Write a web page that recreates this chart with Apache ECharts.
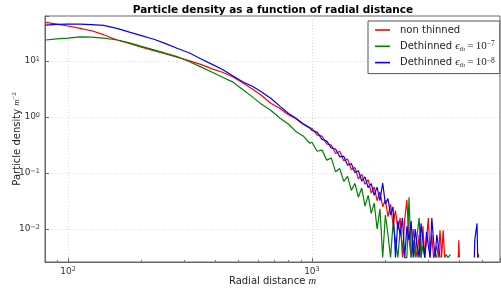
<!DOCTYPE html>
<html>
<head>
<meta charset="utf-8">
<script src="https://cdn.jsdelivr.net/npm/echarts@6/dist/echarts.min.js"></script>
<style>html,body{margin:0;padding:0;background:#fff;}#c{width:501px;height:289px;}</style>
</head>
<body>
<div id="c"></div>
<script>
// ---- data ----
const radius = [81,90,100,112,125,140,160,180,200,225,250,280,315,350,390,430,475,520,570,620,680,740,800,860,920,980,
  1000,1050,1100,1150,1200,1250,1300,1350,1400,1450,1500,1550,1600,1650,1700,1750,1800,1850,1900,1950,
  2000,2050,2100,2150,2200,2250,2300,2350,2400,2450,2500,2550,2600,2650,2700,2750,2800,2850,2900,2950,
  3000,3050,3100,3150,3200,3250,3300,3350,3400,3450,3500,3550,3600,3650,3700,
  3800,3900,3980,4000,4020,4100,4500,4600,4630,4650,4700,4750,4780,4800,4820,4900];

// 0 = empty bin (clipped to the bottom on the log axis), null = no data
const nonThinned = [49,45.4,42.2,38.2,34.7,29.5,23.5,20.4,17.7,15.3,13.5,11.7,10.05,8.7,7.25,6.3,5.19,4.1,3.16,2.45,1.74,1.42,1.10,0.93,0.74,0.64,
  0.63,0.48,0.457,0.33,0.316,0.224,0.245,0.166,0.178,0.115,0.126,0.079,0.095,0.063,0.076,0.044,0.056,0.032,0.046,0.025,
  0.033,0.0166,0.0275,0.012,0.0214,0.0098,0.0158,0,0.0148,0.033,0.0063,0,0.010,0.005,0,0.0079,0,0.0112,0,0.0063,
  0.0158,0,0.0079,0,0,0.005,0,0.0095,0,0.0095,0,0,0,0,0,
  0,0,0,0.0063,0,0,0,0,0,0,0,0,0,0.0036,0,null];

const dethinned7 = [23.7,24.8,25.7,26.9,26.6,25.7,23.7,20.9,18.2,15.8,13.8,12.0,9.7,7.85,6.3,5.13,4.19,3.09,2.29,1.70,1.31,0.95,0.75,0.55,0.46,0.34,
  0.355,0.245,0.257,0.17,0.186,0.105,0.12,0.071,0.087,0.049,0.065,0.037,0.054,0.0257,0.040,0.019,0.029,0.010,0.023,0,
  0.0178,0.0079,0,0.0126,0.0063,0,0.010,0.005,0,0,0.037,0,0.0063,0,0.0079,0.0158,0,0.005,0,0,
  0,0,0,0,0.004,0,0,0,0,0,0,0.0035,0,0,0.0035,
  null,null,null,null,null,null,null,null,null,null,null,null,null,null,null,null];

const dethinned8 = [43.7,45.2,45.7,45.7,44.7,43.2,37.8,32.4,28.4,24.5,20.6,16.9,13.9,11.0,8.7,7.03,5.4,4.27,3.55,2.82,2.14,1.55,1.17,0.95,0.76,0.64,
  0.575,0.537,0.398,0.372,0.282,0.269,0.195,0.20,0.138,0.148,0.102,0.110,0.072,0.085,0.055,0.065,0.040,0.056,0.032,0.066,
  0.028,0.035,0.0178,0.025,0,0.014,0.0079,0.0158,0,0.0112,0.0063,0.014,0,0.010,0.005,0,0.0126,0.0063,0,0.0089,
  0.005,0,0.0158,0.0063,0,0.0079,0.005,0,0,0,0,0,0,0,0,
  0,0,0,0,0,0,0,0,0,0.0063,0.0063,0.0126,0,0,null,null];

const seriesNames = ['non thinned', 'Dethinned eps7', 'Dethinned eps8'];
const xMinorTicks = [90,200,300,400,500,600,700,800,900,2000,3000,4000,5000];

// ---- chart ----
const X_MIN = 80.5, X_MAX = 5900, Y_MIN = 0.00258, Y_MAX = 63.6;
const FLOOR = 0.0031; // level to which empty bins are clipped

function toLine(vals) {
  return radius.map((r, i) => {
    const v = vals[i];
    if (v == null) return [r, '-'];
    if (v > 0) return [r, v];
    const p = vals[i - 1], n = vals[i + 1];
    return (p > 0 || n > 0) ? [r, FLOOR] : [r, '-'];
  });
}

function powLabel(v) {
  const e = Math.round(Math.log10(v));
  if (Math.abs(Math.log10(v) - e) > 1e-6) return '';
  return '{b|10}{s|' + (e < 0 ? '\u2212' + (-e) : e) + '}';
}
const tickRich = {
  b: {fontFamily: 'DejaVu Sans', fontSize: 9, color: '#333', lineHeight: 11},
  s: {fontFamily: 'DejaVu Sans', fontSize: 6.5, color: '#333', lineHeight: 5, verticalAlign: 'top'}
};

const legendRich = {
  a: {fontFamily: 'DejaVu Sans', fontSize: 10, color: '#222', lineHeight: 12},
  e: {fontFamily: 'Liberation Serif', fontStyle: 'italic', fontSize: 11, color: '#222', lineHeight: 12},
  sub: {fontFamily: 'Liberation Serif', fontStyle: 'italic', fontSize: 7, color: '#222', lineHeight: 6, verticalAlign: 'bottom'},
  m: {fontFamily: 'Liberation Serif', fontSize: 11, color: '#222', lineHeight: 12},
  sup: {fontFamily: 'Liberation Serif', fontSize: 7.5, color: '#222', lineHeight: 6, verticalAlign: 'top'}
};
const legendText = {
  'non thinned': '{a|non thinned}',
  'Dethinned eps7': '{a|Dethinned }{e|\u03f5}{sub|th}{m|\u2009=\u200910}{sup|\u22127}',
  'Dethinned eps8': '{a|Dethinned }{e|\u03f5}{sub|th}{m|\u2009=\u200910}{sup|\u22128}'
};

const colors = ['#ff0000', '#008000', '#0000ff'];
const datasets = [nonThinned, dethinned7, dethinned8];

const chart = echarts.init(document.getElementById('c'), null, {renderer: 'canvas'});
chart.setOption({
  animation: false,
  backgroundColor: '#fff',
  graphic: [{
    type: 'text', x: 273, y: 10,
    style: {text: 'Particle density as a function of radial distance', fontFamily: 'DejaVu Sans',
      fontWeight: 'bold', fontSize: 10.5, fill: '#000', align: 'center', verticalAlign: 'middle'}
  }],
  grid: {left: 45, right: 1, top: 16, bottom: 27, show: true, borderColor: '#666', borderWidth: 1,
    containLabel: false, outerBoundsMode: 'none'},
  legend: {
    orient: 'vertical', left: 368, top: 21, padding: [3, 5, 5, 7], itemGap: 4.3,
    itemWidth: 15, itemHeight: 1.6, icon: 'rect',
    backgroundColor: '#fff', borderColor: '#555', borderWidth: 1, borderRadius: 0,
    data: seriesNames,
    formatter: name => legendText[name],
    textStyle: {fontFamily: 'DejaVu Sans', fontSize: 10, color: '#222', lineHeight: 12, padding: [0, 0, 0, 5], rich: legendRich}
  },
  xAxis: [{
    type: 'log', logBase: 10, min: X_MIN, max: X_MAX, gridIndex: 0, position: 'bottom',
    name: '{a|Radial distance }{b|m}', nameLocation: 'middle', nameGap: 14, nameMoveOverlap: false,
    nameTextStyle: {rich: {
      a: {fontFamily: 'DejaVu Sans', fontSize: 10, color: '#222'},
      b: {fontFamily: 'Liberation Serif', fontStyle: 'italic', fontSize: 10.5, color: '#222'}
    }},
    axisLine: {show: true, lineStyle: {color: '#666', width: 1}},
    axisTick: {show: true, inside: true, length: 4, lineStyle: {color: '#666'}},
    axisLabel: {formatter: powLabel, margin: 4, rich: tickRich},
    splitLine: {show: true, showMinLine: false, showMaxLine: false, lineStyle: {color: '#d8d8d8', type: [1, 2], width: 1}},
    minorTick: {show: false}
  }, {
    type: 'log', logBase: 10, min: X_MIN, max: X_MAX, gridIndex: 0, position: 'bottom',
    axisLine: {show: false},
    axisTick: {show: true, inside: true, length: 2, customValues: xMinorTicks, lineStyle: {color: '#777'}},
    axisLabel: {show: false},
    splitLine: {show: false}
  }],
  yAxis: [{
    type: 'log', logBase: 10, min: Y_MIN, max: Y_MAX, position: 'left',
    name: '{a|Particle density }{b|m}{c|\u22122}', nameLocation: 'middle', nameGap: 22, nameMoveOverlap: false,
    nameTextStyle: {rich: {
      a: {fontFamily: 'DejaVu Sans', fontSize: 10, color: '#222', lineHeight: 12},
      b: {fontFamily: 'Liberation Serif', fontStyle: 'italic', fontSize: 9, color: '#222', lineHeight: 12},
      c: {fontFamily: 'Liberation Serif', fontSize: 6.5, color: '#222', lineHeight: 6, verticalAlign: 'top'}
    }},
    axisLine: {show: true, lineStyle: {color: '#666', width: 1}},
    axisTick: {show: true, inside: true, length: 4, lineStyle: {color: '#666'}},
    axisLabel: {formatter: powLabel, margin: 5, rich: tickRich},
    splitLine: {show: true, showMinLine: false, showMaxLine: false, lineStyle: {color: '#d8d8d8', type: [1, 2], width: 1}}
  }],
  series: datasets.map((vals, i) => ({
    name: seriesNames[i], type: 'line', xAxisIndex: 0, yAxisIndex: 0,
    data: toLine(vals), showSymbol: false, symbol: 'none', connectNulls: false, clip: true,
    lineStyle: {color: colors[i], width: 1.2}, itemStyle: {color: colors[i]}, z: 2 + i
  }))
});
</script>
</body>
</html>
